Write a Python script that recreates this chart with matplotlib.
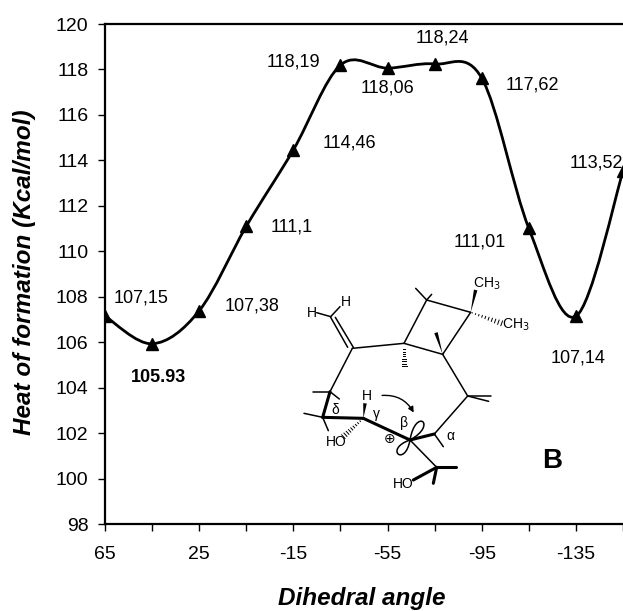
#!/usr/bin/env python

import numpy as np
import matplotlib
matplotlib.use('Agg')
import matplotlib.pyplot as plt
from matplotlib.path import Path
from matplotlib.patches import PathPatch, FancyArrowPatch, Polygon

plt.rcParams['font.family'] = ['Liberation Sans', 'DejaVu Sans']

angles = [65, 45, 25, 5, -15, -35, -55, -75, -95, -115, -135, -155]
energies = [107.15, 105.93, 107.38, 111.1, 114.46, 118.19, 118.06, 118.24,
            117.62, 111.01, 107.14, 113.52]
point_labels = ['107,15', '105.93', '107,38', '111,1', '114,46', '118,19',
                '118,06', '118,24', '117,62', '111,01', '107,14', '113,52']
# label centres, pixels from the top left of the picture
label_x = [141, 158, 252, 292, 349, 293, 388, 442, 532, 480, 578, 596]
label_y = [298, 377, 306, 227, 143, 62, 88, 38, 85, 242, 358, 163]

xticks = [65, 45, 25, 5, -15, -35, -55, -75, -95, -115, -135, -155]
xticklabels = ['65', '', '25', '', '-15', '', '-55', '', '-95', '', '-135', '']
yticks = list(range(98, 121, 2))

# molecule, in pixels of the 3x crop around it
thin_bonds = [((50, 158), (92, 170)), ((92, 170), (120, 140)),
              ((160, 262), (106, 172)), ((143, 262), (92, 172)),
              ((157, 265), (312, 250)), ((312, 250), (380, 120)),
              ((380, 120), (512, 157)), ((512, 157), (428, 283)),
              ((312, 250), (428, 283)), ((380, 120), (347, 85)),
              ((380, 120), (395, 103)), ((428, 283), (503, 408)),
              ((503, 408), (572, 408)), ((503, 408), (566, 424)),
              ((503, 408), (403, 522)), ((403, 522), (430, 560)),
              ((157, 265), (90, 395)), ((90, 395), (40, 395)),
              ((90, 395), (118, 417)), ((68, 472), (12, 460)),
              ((68, 472), (85, 512)), ((330, 540), (410, 622))]
thick_bonds = [((90, 395), (68, 472)), ((68, 472), (190, 475)),
               ((190, 475), (330, 540)), ((403, 522), (330, 540)),
               ((410, 622), (467, 622)), ((410, 622), (400, 670)),
               ((410, 622), (340, 660))]
wedges = [((512, 157), (527, 90)), ((428, 283), (408, 218)),
          ((190, 475), (195, 430))]
hashes = [((512, 157), (605, 190)), ((312, 250), (312, 318)),
          ((190, 475), (130, 530))]
upper_lobe = [(330, 540), (347, 440), (415, 494), (330, 540)]
lower_lobe = [(330, 540), (250, 567), (315, 625), (330, 540)]
mol_labels = [('H', 137, 125), ('H', 37, 158), ('CH$_3$', 560, 72),
              ('CH$_3$', 648, 195), ('H', 202, 407), ('\u03b3', 230, 462),
              ('\u03b4', 107, 450), ('\u03b2', 313, 490), ('\u03b1', 450, 527),
              ('\u2295', 268, 537), ('HO', 108, 545), ('HO', 310, 673)]


def crop_px(p):
    return 300 + p[0] / 3.0, 260 + p[1] / 3.0


def smooth_path(xs, ys):
    # smoothed line through the points, as the spreadsheet drew it
    verts = [(xs[0], ys[0])]
    codes = [Path.MOVETO]
    n = len(xs)
    for i in range(n - 1):
        x0, y0 = xs[max(i - 1, 0)], ys[max(i - 1, 0)]
        x3, y3 = xs[min(i + 2, n - 1)], ys[min(i + 2, n - 1)]
        verts.append((xs[i] + (xs[i + 1] - x0) / 6.0, ys[i] + (ys[i + 1] - y0) / 6.0))
        verts.append((xs[i + 1] - (x3 - xs[i]) / 6.0, ys[i + 1] - (y3 - ys[i]) / 6.0))
        verts.append((xs[i + 1], ys[i + 1]))
        codes += [Path.CURVE4, Path.CURVE4, Path.CURVE4]
    return Path(verts, codes)


fig = plt.figure(figsize=(6.23, 6.11), dpi=100)
ax = fig.add_axes([105 / 623.0, 1 - 524 / 611.0, 518 / 623.0, 500 / 611.0])

ax.add_patch(PathPatch(smooth_path(angles, energies), fill=False, color='black', lw=2.0))
ax.plot(angles, energies, linestyle='none', marker='^', color='black', ms=9, clip_on=True)

ax.set_xlim(65, -155)
ax.set_ylim(98, 120)
ax.set_xticks(xticks)
ax.set_xticklabels(xticklabels)
ax.set_yticks(yticks)
ax.tick_params(axis='y', labelsize=14, length=5, width=1, pad=7)
ax.tick_params(axis='x', labelsize=14, length=5, width=1, pad=11)
ax.spines['right'].set_visible(False)
for s in ['left', 'top', 'bottom']:
    ax.spines[s].set_linewidth(1.6)

# overlay in picture pixels for the labels and the molecule
ov = fig.add_axes([0, 0, 1, 1])
ov.set_xlim(0, 623)
ov.set_ylim(611, 0)
ov.axis('off')
ov.patch.set_alpha(0)

for i in range(len(point_labels)):
    ov.text(label_x[i], label_y[i], point_labels[i], ha='center', va='center',
            fontsize=13, fontweight='bold' if point_labels[i] == '105.93' else 'normal')

ov.text(25, 272, 'Heat of formation (Kcal/mol)', rotation=90, ha='center', va='center',
        fontsize=17.5, fontweight='bold', fontstyle='italic')
ov.text(362, 599, 'Dihedral angle', ha='center', va='center',
        fontsize=17.5, fontweight='bold', fontstyle='italic')
ov.text(552, 461, 'B', ha='center', va='center', fontsize=20, fontweight='bold')

for a, b in thin_bonds:
    xa, ya = crop_px(a)
    xb, yb = crop_px(b)
    ov.plot([xa, xb], [ya, yb], color='black', lw=1.1, solid_capstyle='round')
for a, b in thick_bonds:
    xa, ya = crop_px(a)
    xb, yb = crop_px(b)
    ov.plot([xa, xb], [ya, yb], color='black', lw=2.2, solid_capstyle='round')
for a, b in wedges:
    xa, ya = crop_px(a)
    xb, yb = crop_px(b)
    nx, ny = -(yb - ya), xb - xa
    norm = np.hypot(nx, ny)
    nx, ny = 1.8 * nx / norm, 1.8 * ny / norm
    ov.add_patch(Polygon([(xa, ya), (xb + nx, yb + ny), (xb - nx, yb - ny)], color='black', lw=0))
for a, b in hashes:
    xa, ya = crop_px(a)
    xb, yb = crop_px(b)
    nx, ny = -(yb - ya), xb - xa
    norm = np.hypot(nx, ny)
    nx, ny = nx / norm, ny / norm
    for t in np.linspace(0.05, 1, 10):
        w = 2.5 * t
        px, py = xa + t * (xb - xa), ya + t * (yb - ya)
        ov.plot([px - w * nx, px + w * nx], [py - w * ny, py + w * ny], color='black', lw=0.7)
for lobe in [upper_lobe, lower_lobe]:
    pts = [crop_px(p) for p in lobe]
    ov.add_patch(PathPatch(Path(pts, [Path.MOVETO, Path.CURVE4, Path.CURVE4, Path.CURVE4]),
                           fill=False, color='black', lw=1.1))
ov.add_patch(FancyArrowPatch(crop_px((238, 407)), crop_px((345, 465)),
                             connectionstyle='arc3,rad=-0.35', arrowstyle='-|>',
                             mutation_scale=8, lw=1.0, color='black'))
for s, zx, zy in mol_labels:
    x, y = crop_px((zx, zy))
    ov.text(x, y, s, ha='center', va='center', fontsize=10)

fig.savefig('out.png', dpi=100)
